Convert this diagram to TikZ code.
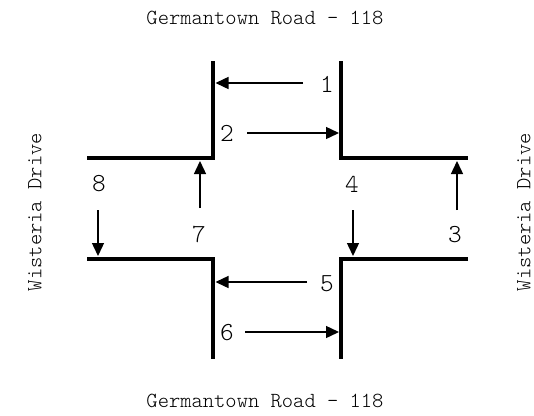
\documentclass[tikz,border=0pt]{standalone}
\usepackage{fontspec}
\setmonofont{Latin Modern Mono Light}
\usetikzlibrary{arrows.meta}
\tikzset{
  wall/.style={line width=4.5pt, line join=miter, line cap=butt},
  flow/.style={line width=1.4pt, -{Triangle[length=13pt,width=12pt]}},
  num/.style={font=\ttfamily\fontsize{26}{26}\selectfont, inner sep=0pt},
  street/.style={font=\ttfamily\fontsize{21.5}{21.5}\selectfont, inner sep=0pt}
}
\begin{document}
\begin{tikzpicture}[x=1pt,y=-1pt]
  \useasboundingbox (0,0) rectangle (534,415);

  % street names
  \node[street] (nTop) at (265,18) {Germantown Road - 118};
  \node[street] (nBot) at (265,401) {Germantown Road - 118};
  \node[street, rotate=90] (wLeft) at (35,212) {Wisteria Drive};
  \node[street, rotate=90] (wRight) at (524,212) {Wisteria Drive};

  % kerb corners
  \draw[wall] (87,158) -- (213,158) -- (213,61);
  \draw[wall] (341,61) -- (341,158) -- (468,158);
  \draw[wall] (87,259) -- (213,259) -- (213,359);
  \draw[wall] (468,259) -- (341,259) -- (341,359);

  % movement labels
  \node[num] (m1) at (327,84) {1};
  \node[num] (m2) at (227,133) {2};
  \node[num] (m3) at (455,235) {3};
  \node[num] (m4) at (352,184) {4};
  \node[num] (m5) at (327,284) {5};
  \node[num] (m6) at (227,333) {6};
  \node[num] (m7) at (199,234) {7};
  \node[num] (m8) at (99,184) {8};

  % arrow end points
  \coordinate (a1s) at (303,83);  \coordinate (a1e) at (215.5,83);
  \coordinate (a2s) at (247,133); \coordinate (a2e) at (339,133);
  \coordinate (a5s) at (307,282); \coordinate (a5e) at (215.5,282);
  \coordinate (a6s) at (245,332); \coordinate (a6e) at (339,332);
  \coordinate (a3s) at (457,210); \coordinate (a3e) at (457,161);
  \coordinate (a7s) at (200,208); \coordinate (a7e) at (200,161);
  \coordinate (a4s) at (353,210); \coordinate (a4e) at (353,256);
  \coordinate (a8s) at (98,210);  \coordinate (a8e) at (98,256);

  % movement arrows
  \draw[flow] (a1s) -- (a1e);
  \draw[flow] (a2s) -- (a2e);
  \draw[flow] (a5s) -- (a5e);
  \draw[flow] (a6s) -- (a6e);
  \draw[flow] (a3s) -- (a3e);
  \draw[flow] (a7s) -- (a7e);
  \draw[flow] (a4s) -- (a4e);
  \draw[flow] (a8s) -- (a8e);
\end{tikzpicture}
\end{document}
